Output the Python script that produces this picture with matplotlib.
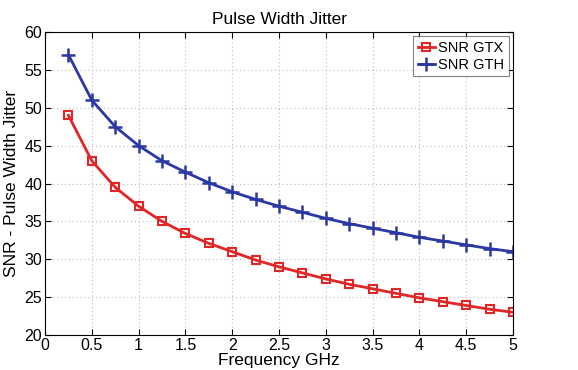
#!/usr/bin/env python3
import matplotlib
matplotlib.use('Agg')
import matplotlib.pyplot as plt
import numpy as np

freq = [0.25, 0.5, 0.75, 1.0, 1.25, 1.5, 1.75, 2.0, 2.25, 2.5,
        2.75, 3.0, 3.25, 3.5, 3.75, 4.0, 4.25, 4.5, 4.75, 5.0]
snr_gtx = [49.0, 43.0, 39.5, 37.0, 35.0, 33.4, 32.1, 31.0, 29.9, 29.0,
           28.2, 27.4, 26.7, 26.1, 25.5, 24.9, 24.4, 23.9, 23.4, 23.0]
snr_gth = [57.0, 51.0, 47.5, 45.0, 43.0, 41.5, 40.1, 38.9, 37.9, 37.0,
           36.2, 35.4, 34.7, 34.1, 33.5, 32.9, 32.4, 31.9, 31.4, 31.0]
xticks = [0, 0.5, 1, 1.5, 2, 2.5, 3, 3.5, 4, 4.5, 5]
xtick_labels = ['0', '0.5', '1', '1.5', '2', '2.5', '3', '3.5', '4', '4.5', '5']

plt.rcParams['font.family'] = ['Liberation Sans', 'DejaVu Sans']

fig = plt.figure(figsize=(5.78, 3.70), dpi=100)
ax = fig.add_axes([45/578, 1 - 335/370, (513-45)/578, (335-32)/370])

ax.plot(freq, snr_gtx, color='#e02626', lw=2, marker='s', ms=5.5,
        mfc='none', mec='#e02626', mew=1.5, label='SNR GTX')
ax.plot(freq, snr_gth, color='#2b37a3', lw=2, marker='+', ms=10,
        mew=1.8, label='SNR GTH')

ax.set_xlim(0, 5)
ax.set_ylim(20, 60)
ax.set_xticks(xticks)
ax.set_xticklabels(xtick_labels)
ax.set_yticks(np.arange(20, 61, 5))
ax.tick_params(direction='in', top=True, right=True, labelsize=11.5, length=4, pad=2)
ax.grid(True, ls=(0, (1, 2.5)), color='#bdbdbd', lw=0.8)
ax.set_xlabel('Frequency GHz', fontsize=12.5, labelpad=0)
ax.set_ylabel('SNR - Pulse Width Jitter', fontsize=12.5, labelpad=4)
ax.set_title('Pulse Width Jitter', fontsize=12.5, pad=6)

leg = ax.legend(loc='upper right', fontsize=10.5, handlelength=1.2,
                handletextpad=0.2, borderpad=0.3, labelspacing=0.2,
                fancybox=False, edgecolor='#606060', borderaxespad=0.3)
leg.get_frame().set_linewidth(0.8)

fig.savefig('out.png', dpi=100)
